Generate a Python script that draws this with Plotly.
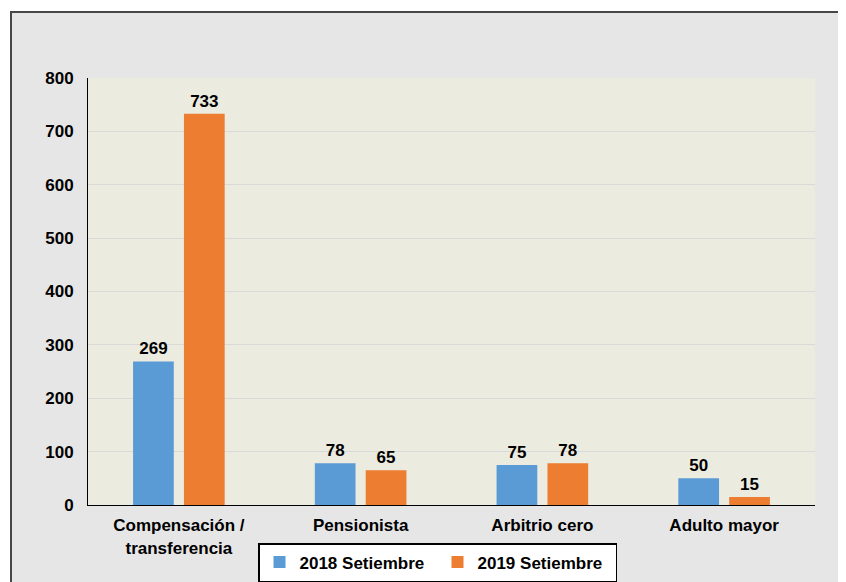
import plotly.graph_objects as go

categories = ["Compensación /<br>transferencia", "Pensionista", "Arbitrio cero", "Adulto mayor"]
values_2018 = [269, 78, 75, 50]
values_2019 = [733, 65, 78, 15]
series_names = ["2018 Setiembre", "2019 Setiembre"]
y_ticks = [0, 100, 200, 300, 400, 500, 600, 700, 800]

FONT = "Liberation Sans"
fs = 17

fig = go.Figure()
fig.add_trace(go.Bar(
    x=categories, y=values_2018, name=series_names[0],
    marker=dict(color="#5b9bd5", line=dict(width=0)),
    text=[str(v) for v in values_2018], textposition="outside",
    textfont=dict(family=FONT, size=fs, color="black", weight="bold"),
    cliponaxis=False,
))
fig.add_trace(go.Bar(
    x=categories, y=values_2019, name=series_names[1],
    marker=dict(color="#ed7d31", line=dict(width=0)),
    text=[str(v) for v in values_2019], textposition="outside",
    textfont=dict(family=FONT, size=fs, color="black", weight="bold"),
    cliponaxis=False,
))

# the page body adds an 8px offset; figure pixel coords below are page coords - 8
OFF = 8
W, H = 846, 582
L, T = 88 - OFF, 78 - OFF
pw, ph = 727, 427
R, B = W - L - pw, H - T - ph

def px_x(page_px):
    return (page_px - OFF - L) / pw

def px_y(page_py):
    return (T + ph - (page_py - OFF)) / ph

# outer chart frame
fig.add_shape(
    type="rect", xref="paper", yref="paper", layer="below",
    x0=px_x(11), x1=px_x(870),
    y0=px_y(620), y1=px_y(12),
    fillcolor="#e6e6e6", line=dict(color="#474747", width=2),
)
# plot-area fill
fig.add_shape(
    type="rect", xref="paper", yref="paper", layer="below",
    x0=0, x1=1, y0=0, y1=1,
    fillcolor="#ecebdf", line=dict(width=0),
)

fig.update_layout(
    width=W, height=H,
    margin=dict(l=L, r=R, t=T, b=B, pad=0, autoexpand=False),
    paper_bgcolor="white",
    plot_bgcolor="#ecebdf",
    barmode="group",
    bargap=0.44,
    bargroupgap=0.2,
    font=dict(family=FONT, size=fs, color="black"),
    showlegend=True,
    legend=dict(
        orientation="h", x=px_x(437.5), xanchor="center", y=px_y(543), yanchor="top",
        bgcolor="white", bordercolor="black", borderwidth=1.5,
        font=dict(family=FONT, size=fs, color="black", weight="bold"),
        traceorder="normal",
        entrywidth=133, entrywidthmode="pixels",
    ),
    xaxis=dict(
        showline=True, linecolor="black", linewidth=1,
        showgrid=False, ticks="",
        tickfont=dict(family=FONT, size=fs, color="black", weight="bold"),
        ticklabelstandoff=5,
    ),
    yaxis=dict(
        range=[0, 800], tickvals=y_ticks,
        showline=True, linecolor="black", linewidth=1,
        showgrid=True, gridcolor="#d9d9d9", gridwidth=1,
        zeroline=False, ticks="",
        tickfont=dict(family=FONT, size=fs, color="black", weight="bold"),
        ticklabelstandoff=10,
    ),
)

fig.write_html("out.html")
